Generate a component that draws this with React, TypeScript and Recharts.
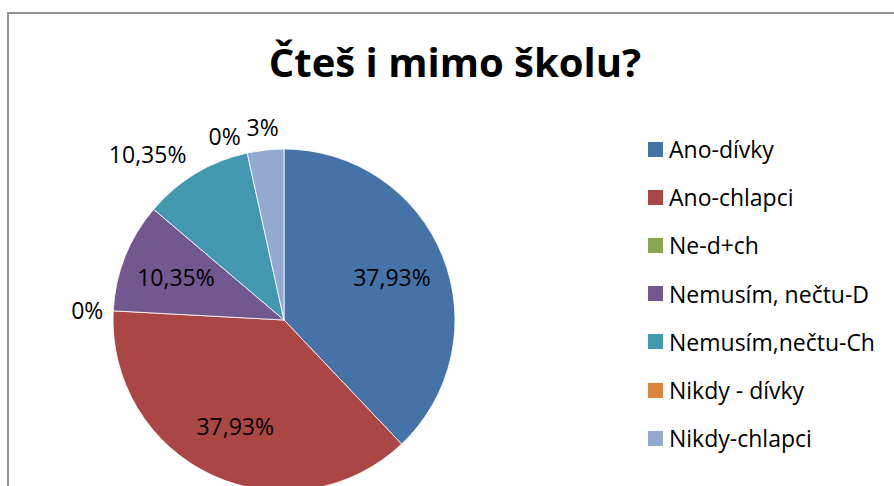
import { PieChart, Pie, Cell, Legend } from 'recharts'

const categories = ['Ano-dívky', 'Ano-chlapci', 'Ne-d+ch', 'Nemusím, nečtu-D', 'Nemusím,nečtu-Ch', 'Nikdy - dívky', 'Nikdy-chlapci']
const shares = [37.93, 37.93, 0, 10.35, 10.35, 0, 3.45]
const shareLabels = ['37,93%', '37,93%', '0%', '10,35%', '10,35%', '0%', '3%']
const labelInside = [true, true, false, true, false, false, false]
const colors = ['#4572A7', '#AA4643', '#89A54E', '#71588F', '#4198AF', '#DB843D', '#93A9CF']

const data = categories.map((name, i) => ({ name, value: shares[i] }))

const FONT = '"Open Sans", sans-serif'
const FONT_SIZE = 23
const RADIAN = Math.PI / 180
const total = shares.reduce((a, b) => a + b, 0)

const textWidth = (t: string) => t.length * 14

// where an outside label's centre goes, for a given mid angle
function outsidePlace(cx: number, cy: number, r: number, angle: number, text: string) {
  const cos = Math.cos(-angle * RADIAN)
  const sin = Math.sin(-angle * RADIAN)
  const ax = cx + (r + 12) * cos
  const ay = cy + (r + 12) * sin
  const w = textWidth(text)
  const h = 22
  let centerX = ax + (w / 2) * cos
  if (Math.abs(cos) >= 0.3) centerX = cos < 0 ? ax - w / 2 : ax + w / 2
  return { centerX, centerY: ay + (h / 2) * sin, w }
}

function renderLabel(props: any) {
  const { cx, cy, midAngle, outerRadius, index } = props
  const text = shareLabels[index]

  if (labelInside[index]) {
    const cos = Math.cos(-midAngle * RADIAN)
    const sin = Math.sin(-midAngle * RADIAN)
    const r = outerRadius * 0.68
    return (
      <text x={cx + r * cos} y={cy + r * sin} textAnchor="middle" dominantBaseline="central"
        fontFamily={FONT} fontSize={FONT_SIZE} fill="#000">
        {text}
      </text>
    )
  }

  let { centerX, centerY, w } = outsidePlace(cx, cy, outerRadius, midAngle, text)

  // push away from the next label when they would collide
  const next = index + 1
  if (next < shares.length && !labelInside[next]) {
    const nextAngle = midAngle - ((shares[index] + shares[next]) / 2 / total) * 360
    const nb = outsidePlace(cx, cy, outerRadius, nextAngle, shareLabels[next])
    const limit = nb.centerX - nb.w / 2 - 10
    if (Math.abs(nb.centerY - centerY) < 22 && centerX + w / 2 > limit) {
      centerX = limit - w / 2
      centerY += 5
    }
  }

  return (
    <text x={centerX} y={centerY} textAnchor="middle" dominantBaseline="central"
      fontFamily={FONT} fontSize={FONT_SIZE} fill="#000">
      {text}
    </text>
  )
}

function LegendList() {
  return (
    <ul style={{ listStyle: 'none', margin: 0, padding: 0 }}>
      {categories.map((name, i) => (
        <li key={name} style={{ display: 'flex', alignItems: 'center', height: 48.2 }}>
          <span style={{ width: 15, height: 15, background: colors[i], marginRight: 6, flexShrink: 0 }} />
          <span style={{ fontFamily: FONT, fontSize: FONT_SIZE, color: '#000', whiteSpace: 'nowrap' }}>{name}</span>
        </li>
      ))}
    </ul>
  )
}

export default function App() {
  return (
    <div style={{ position: 'absolute', left: 0, top: 0, width: 894, height: 486, overflow: 'hidden', background: '#fff' }}>
      <div style={{ position: 'absolute', left: 7, top: 12, width: 920, height: 520, borderLeft: '2px solid #939393', borderTop: '2px solid #939393' }} />
      <div style={{
        position: 'absolute', left: 0, top: 42, width: 910, textAlign: 'center',
        fontFamily: FONT, fontWeight: 700, fontSize: 40, lineHeight: '40px', color: '#000',
      }}>
        Čteš i mimo školu?
      </div>
      <div style={{ position: 'absolute', left: 0, top: 0 }}>
        <PieChart width={894} height={486} margin={{ top: 0, right: 0, bottom: 0, left: 0 }}>
          <Pie
            data={data}
            dataKey="value"
            nameKey="name"
            cx={284}
            cy={320}
            outerRadius={171}
            startAngle={90}
            endAngle={-270}
            stroke="#ffffff"
            strokeWidth={0.8}
            label={renderLabel}
            labelLine={false}
            isAnimationActive={false}
          >
            {data.map((d, i) => (
              <Cell key={d.name} fill={colors[i]} />
            ))}
          </Pie>
          <Legend
            layout="vertical"
            content={() => <LegendList />}
            wrapperStyle={{ left: 648, top: 125, width: 246, bottom: 'auto', right: 'auto' }}
          />
        </PieChart>
      </div>
    </div>
  )
}
